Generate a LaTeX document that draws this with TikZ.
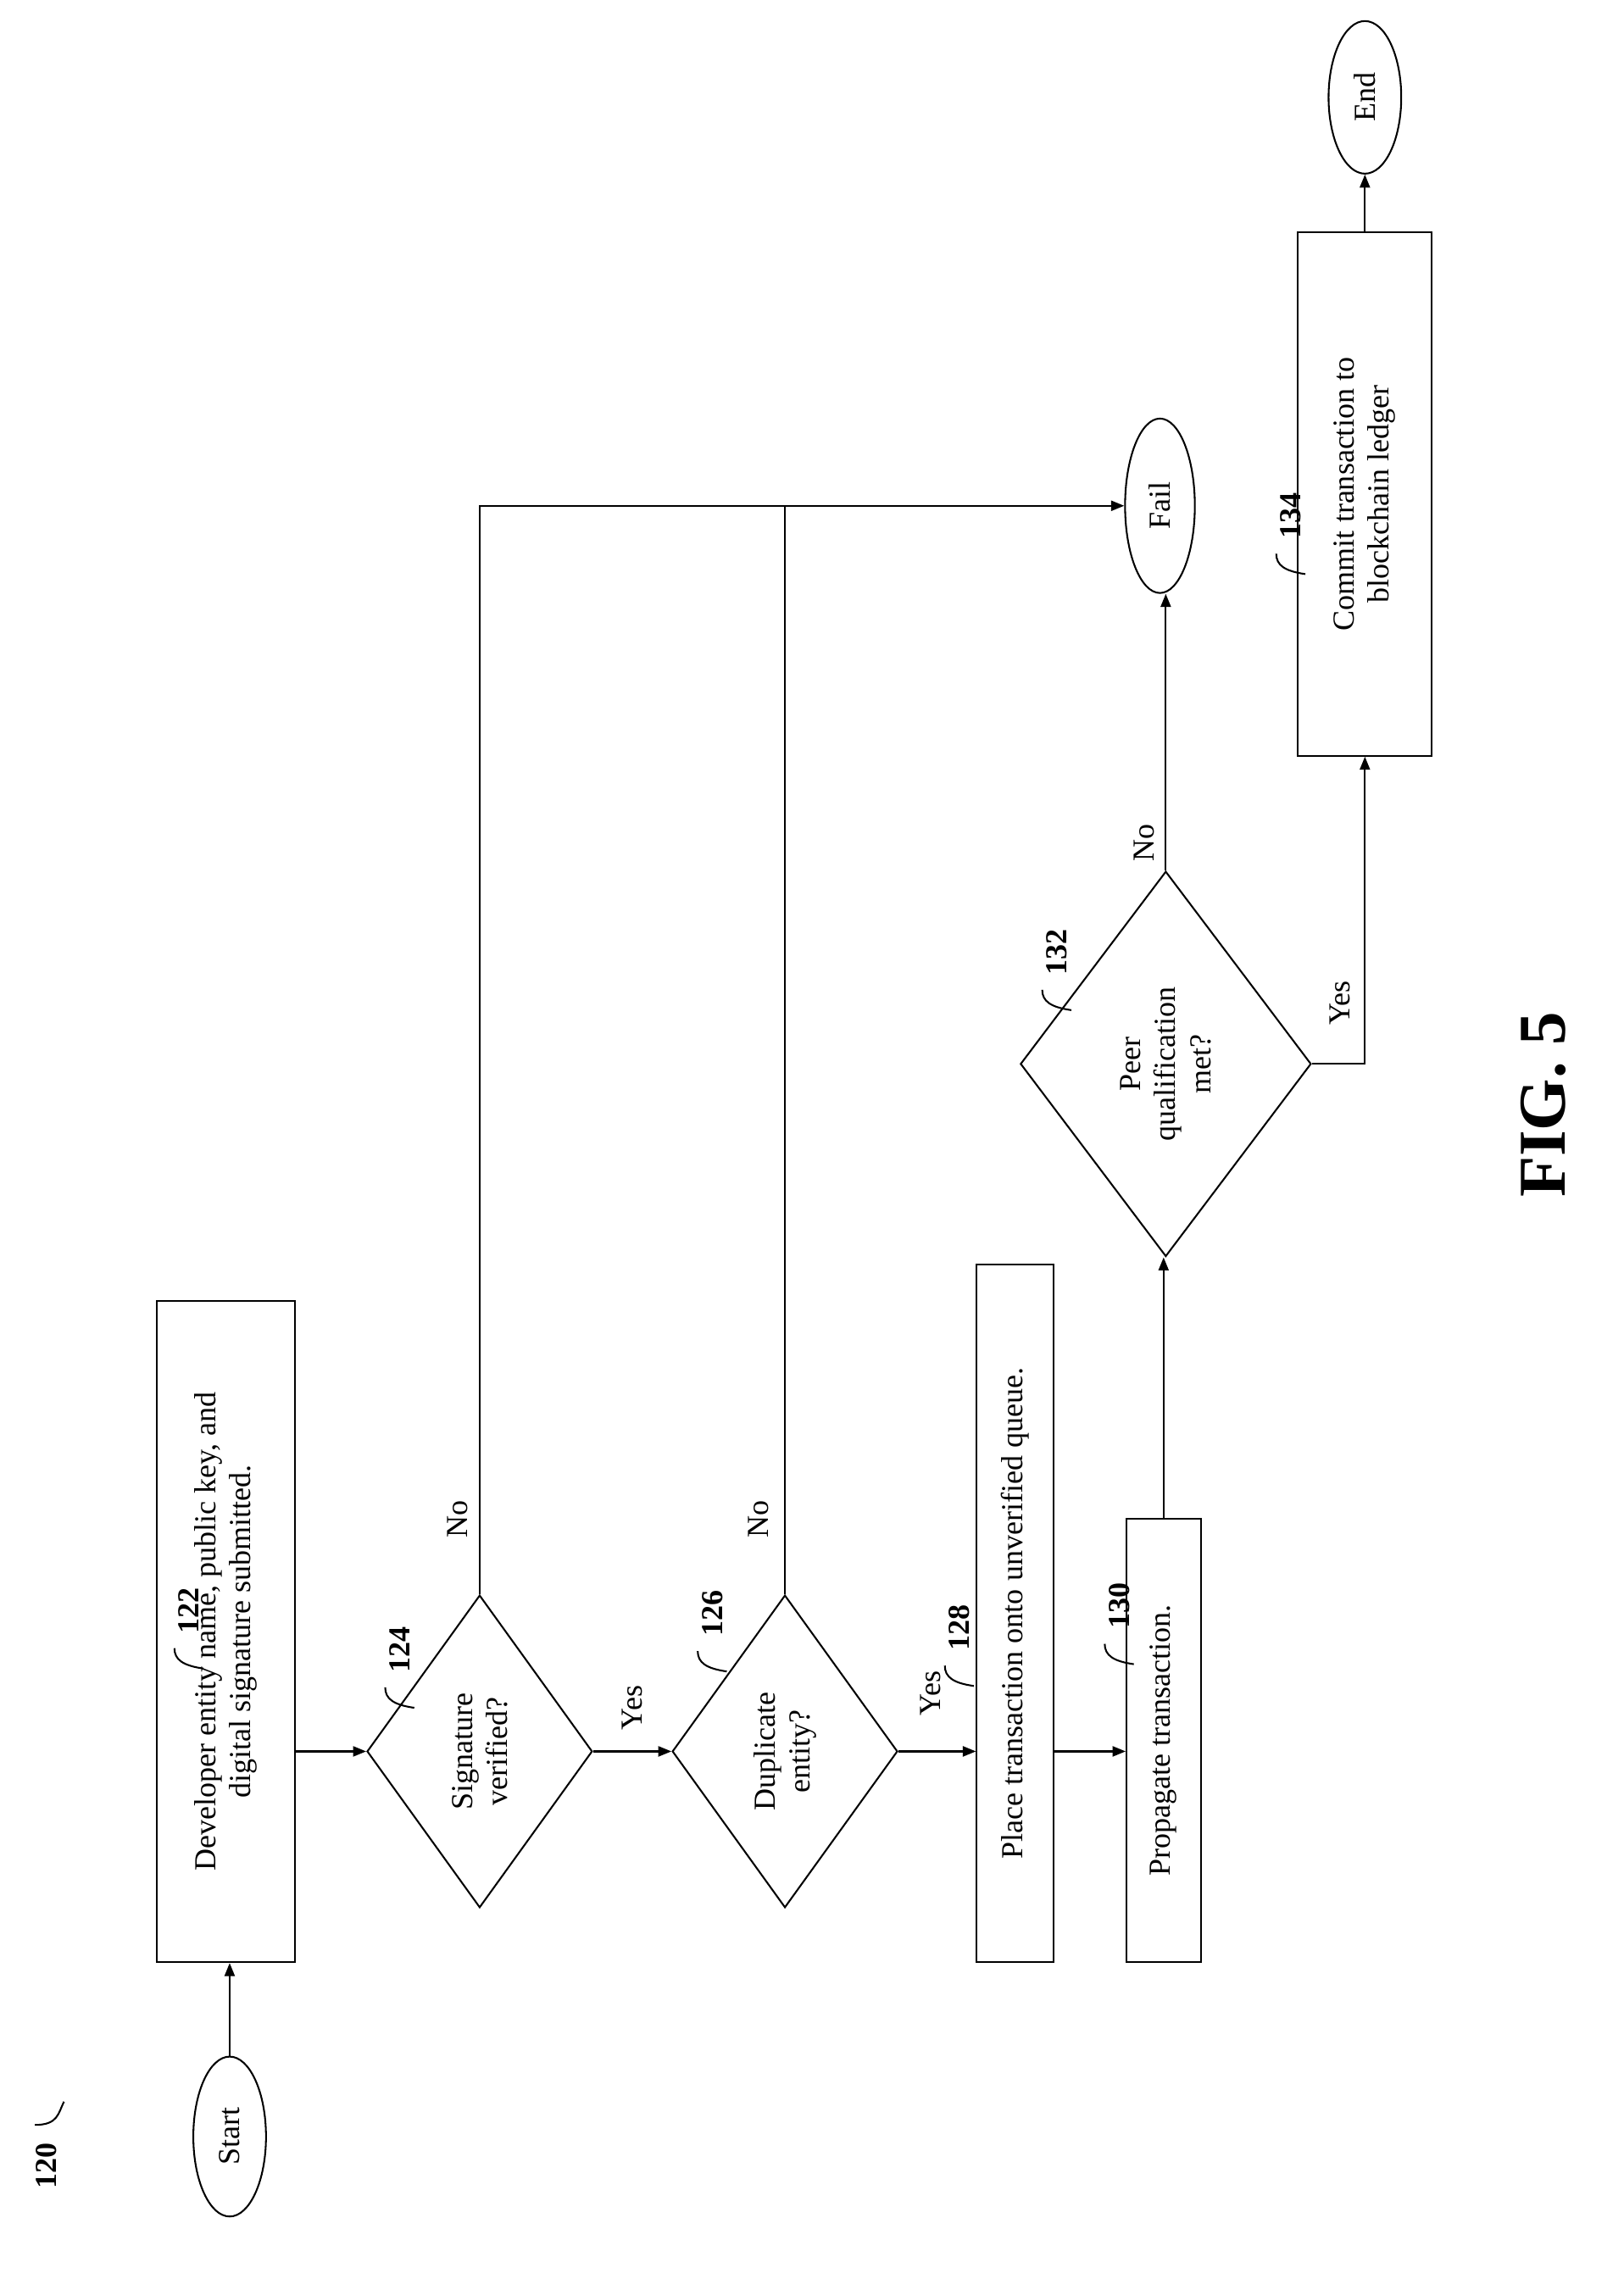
\documentclass[tikz,border=0pt]{standalone}
\usepackage{fontspec}
\setmainfont{Liberation Serif}
\usetikzlibrary{shapes.geometric,arrows.meta}
\begin{document}
\begin{tikzpicture}[x=1pt,y=1pt,
  every node/.style={font=\fontsize{21}{24}\selectfont},
  box/.style={draw,line width=1.2pt,rectangle,rotate=90,inner sep=2pt,align=center},
  dia/.style={draw,line width=1.2pt,diamond,rotate=90,inner sep=0pt,align=center},
  term/.style={draw,line width=1.2pt,ellipse,rotate=90,inner sep=0pt},
  lbl/.style={rotate=90},
  ref/.style={rotate=90,font=\fontsize{21}{24}\selectfont\bfseries},
  ln/.style={line width=1.2pt},
  arr/.style={line width=1.2pt,-{Triangle[length=9pt,width=7pt]}}]
\useasboundingbox (0,0) rectangle (1117,1568);
\node[term,minimum width=110,minimum height=50] (st) at (158,98) {Start};
\node[box,minimum width=455,minimum height=95] (b122) at (155.5,445.5) {Developer entity name, public key, and\\digital signature submitted.};
\node[dia,minimum width=215,minimum height=155] (d124) at (330,363) {Signature\\verified?};
\node[dia,minimum width=215,minimum height=155] (d126) at (540,363) {Duplicate\\entity?};
\node[term,minimum width=120,minimum height=48] (fail) at (798,1220) {Fail};
\node[box,minimum width=480,minimum height=53] (b128) at (698.5,458) {Place transaction onto unverified queue.};
\node[box,minimum width=305,minimum height=51] (b130) at (800.5,370.5) {Propagate transaction.};
\node[dia,minimum width=265,minimum height=200] (d132) at (802,836) {Peer\\qualification\\met?};
\node[box,minimum width=360,minimum height=92] (b134) at (939,1228) {Commit transaction to\\blockchain ledger};
\node[term,minimum width=105,minimum height=50] (end) at (939,1501) {End};

\draw[arr] (st.east) -- (st.east |- b122.west);
\draw[arr] (b122.south |- d124.north) -- (d124.north);
\draw[arr] (d124.south) -- (d126.north);
\draw[arr] (d126.south) -- (b128.north |- d126.south);
\draw[arr] (b128.south |- d126.south) -- (b130.north |- d126.south);
\draw[arr] (b130.east) -- (b130.east |- d132.west);
\draw[arr] (d132.east) -- (d132.east |- fail.west);
\draw[arr] (d124.east) |- (fail.north);
\draw[ln] (d126.east) -- (d126.east |- fail.north);
\draw[arr] (d132.south) -| (b134.west);
\draw[arr] (b134.east) -- (end.west);

\node[lbl] (n1) at (315,523) {No};
\node[lbl] (n2) at (522,523) {No};
\node[lbl] (y1) at (435,393) {Yes};
\node[lbl] (y2) at (640,403) {Yes};
\node[lbl] (n3) at (787,988) {No};
\node[lbl] (y3) at (922,878) {Yes};

\foreach \n/\x/\y in {r122/130/460,r124/275/433,r126/490/458,r128/660/448,r130/770/463,r132/727/913,r134/888/1213,r120/32/78}{
  \node[ref] (\n) at (\x,\y) {\ifx\n\empty\fi};
}
\node[ref] at (r122) {122}; \node[ref] at (r124) {124}; \node[ref] at (r126) {126};
\node[ref] at (r128) {128}; \node[ref] at (r130) {130}; \node[ref] at (r132) {132};
\node[ref] at (r134) {134}; \node[ref] at (r120) {120};
\foreach \n in {r122,r124,r126,r128,r130,r132,r134}{
  \draw[ln] ([shift={(-10,-26)}]\n.center) .. controls ([shift={(-10,-34)}]\n.center) and ([shift={(-4,-38)}]\n.center) .. ([shift={(10,-40)}]\n.center);
}
\draw[ln] ([shift={(-8,28)}]r120.center) .. controls ([shift={(8,28)}]r120.center) and ([shift={(8,36)}]r120.center) .. ([shift={(12,44)}]r120.center);
\node[rotate=90,font=\fontsize{46}{50}\selectfont\bfseries] (fig) at (1062,808) {FIG. 5};
\end{tikzpicture}
\end{document}
